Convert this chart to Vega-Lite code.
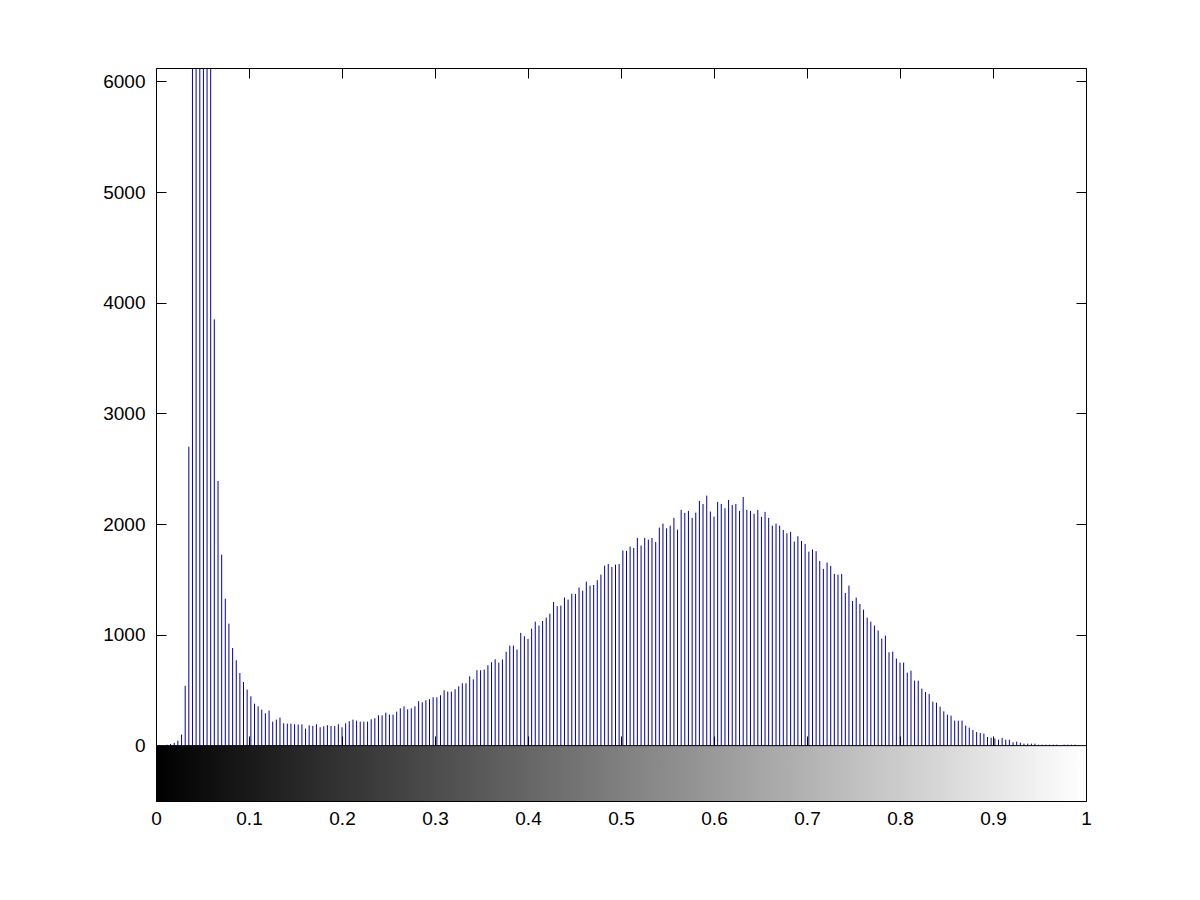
{
  "$schema": "https://vega.github.io/schema/vega-lite/v6.json",
  "width": 930,
  "height": 733,
  "autosize": {"type": "none"},
  "padding": {"left": 156, "top": 68, "right": 114, "bottom": 99},
  "background": "white",
  "config": {
    "view": {"stroke": "black", "strokeWidth": 1},
    "axis": {"labelFont": "Liberation Sans", "labelFontSize": 19, "labelColor": "black", "tickColor": "black", "tickWidth": 1, "grid": false, "domain": false, "title": null, "labelOverlap": false, "labelFlush": false}
  },
  "resolve": {"axis": {"x": "independent", "y": "independent"}},
  "layer": [
    {
      "data": {"values": [{}]},
      "mark": {"type": "rect", "fill": {"gradient": "linear", "x1": 0, "x2": 1, "y1": 0, "y2": 0, "stops": [{"offset": 0, "color": "#000000"}, {"offset": 1, "color": "#ffffff"}]}},
      "encoding": {
        "x": {"datum": 0, "type": "quantitative", "scale": {"domain": [0, 1], "nice": false, "zero": false},
              "axis": {"orient": "bottom", "values": [0, 0.1, 0.2, 0.3, 0.4, 0.5, 0.6, 0.7, 0.8, 0.9, 1], "format": "~g", "offset": -10, "tickSize": 10, "labelPadding": 8, "title": null}},
        "x2": {"datum": 1},
        "y": {"datum": -500, "type": "quantitative", "scale": {"domain": [-500, 6120], "nice": false, "zero": false},
              "axis": {"orient": "left", "values": [0, 1000, 2000, 3000, 4000, 5000, 6000], "format": "d", "offset": -10, "tickSize": 10, "labelPadding": 11, "title": null}},
        "y2": {"datum": 0}
      }
    },
    {
      "data": {"values": [
        {"x":0,"count":0},{"x":0.0039,"count":0},{"x":0.0078,"count":3},{"x":0.0118,"count":8},{"x":0.0157,"count":15},{"x":0.0196,"count":25},{"x":0.0235,"count":45},{"x":0.0275,"count":100},{"x":0.0314,"count":540},{"x":0.0353,"count":2700},
        {"x":0.0392,"count":7800},{"x":0.0431,"count":11500},{"x":0.0471,"count":13000},{"x":0.0510,"count":12000},{"x":0.0549,"count":9800},{"x":0.0588,"count":7000},{"x":0.0627,"count":3850},{"x":0.0667,"count":2390},{"x":0.0706,"count":1725},{"x":0.0745,"count":1328},
        {"x":0.0784,"count":1102},{"x":0.0824,"count":882},{"x":0.0863,"count":771},{"x":0.0902,"count":656},{"x":0.0941,"count":575},{"x":0.0980,"count":506},{"x":0.1020,"count":446},{"x":0.1059,"count":379},{"x":0.1098,"count":355},{"x":0.1137,"count":325},
        {"x":0.1176,"count":292},{"x":0.1216,"count":316},{"x":0.1255,"count":217},{"x":0.1294,"count":235},{"x":0.1333,"count":253},{"x":0.1373,"count":202},{"x":0.1412,"count":199},{"x":0.1451,"count":199},{"x":0.1490,"count":193},{"x":0.1529,"count":190},
        {"x":0.1569,"count":193},{"x":0.1608,"count":154},{"x":0.1647,"count":184},{"x":0.1686,"count":178},{"x":0.1725,"count":193},{"x":0.1765,"count":166},{"x":0.1804,"count":175},{"x":0.1843,"count":184},{"x":0.1882,"count":177},{"x":0.1922,"count":177},
        {"x":0.1961,"count":193},{"x":0.2000,"count":166},{"x":0.2039,"count":202},{"x":0.2078,"count":220},{"x":0.2118,"count":235},{"x":0.2157,"count":226},{"x":0.2196,"count":217},{"x":0.2235,"count":217},{"x":0.2275,"count":217},{"x":0.2314,"count":238},
        {"x":0.2353,"count":247},{"x":0.2392,"count":274},{"x":0.2431,"count":274},{"x":0.2471,"count":298},{"x":0.2510,"count":280},{"x":0.2549,"count":280},{"x":0.2588,"count":307},{"x":0.2627,"count":337},{"x":0.2667,"count":355},{"x":0.2706,"count":328},
        {"x":0.2745,"count":337},{"x":0.2784,"count":355},{"x":0.2824,"count":401},{"x":0.2863,"count":392},{"x":0.2902,"count":410},{"x":0.2941,"count":419},{"x":0.2980,"count":437},{"x":0.3020,"count":437},{"x":0.3059,"count":455},{"x":0.3098,"count":500},
        {"x":0.3137,"count":488},{"x":0.3176,"count":488},{"x":0.3216,"count":509},{"x":0.3255,"count":536},{"x":0.3294,"count":563},{"x":0.3333,"count":563},{"x":0.3373,"count":626},{"x":0.3412,"count":599},{"x":0.3451,"count":681},{"x":0.3490,"count":681},
        {"x":0.3529,"count":687},{"x":0.3569,"count":726},{"x":0.3608,"count":753},{"x":0.3647,"count":780},{"x":0.3686,"count":750},{"x":0.3725,"count":778},{"x":0.3765,"count":848},{"x":0.3804,"count":903},{"x":0.3843,"count":903},{"x":0.3882,"count":867},
        {"x":0.3922,"count":1018},{"x":0.3961,"count":988},{"x":0.4000,"count":964},{"x":0.4039,"count":1057},{"x":0.4078,"count":1120},{"x":0.4118,"count":1084},{"x":0.4157,"count":1126},{"x":0.4196,"count":1156},{"x":0.4235,"count":1192},{"x":0.4275,"count":1298},
        {"x":0.4314,"count":1259},{"x":0.4353,"count":1265},{"x":0.4392,"count":1337},{"x":0.4431,"count":1319},{"x":0.4471,"count":1373},{"x":0.4510,"count":1370},{"x":0.4549,"count":1427},{"x":0.4588,"count":1400},{"x":0.4627,"count":1481},{"x":0.4667,"count":1445},
        {"x":0.4706,"count":1451},{"x":0.4745,"count":1494},{"x":0.4784,"count":1545},{"x":0.4824,"count":1626},{"x":0.4863,"count":1641},{"x":0.4902,"count":1614},{"x":0.4941,"count":1635},{"x":0.4980,"count":1641},{"x":0.5020,"count":1762},{"x":0.5059,"count":1759},
        {"x":0.5098,"count":1798},{"x":0.5137,"count":1786},{"x":0.5176,"count":1876},{"x":0.5216,"count":1807},{"x":0.5255,"count":1876},{"x":0.5294,"count":1861},{"x":0.5333,"count":1876},{"x":0.5373,"count":1840},{"x":0.5412,"count":1969},{"x":0.5451,"count":2005},
        {"x":0.5490,"count":1963},{"x":0.5529,"count":1987},{"x":0.5569,"count":2057},{"x":0.5608,"count":1951},{"x":0.5647,"count":2129},{"x":0.5686,"count":2102},{"x":0.5725,"count":2120},{"x":0.5765,"count":2057},{"x":0.5804,"count":2105},{"x":0.5843,"count":2210},
        {"x":0.5882,"count":2183},{"x":0.5922,"count":2258},{"x":0.5961,"count":2114},{"x":0.6000,"count":2069},{"x":0.6039,"count":2201},{"x":0.6078,"count":2183},{"x":0.6118,"count":2144},{"x":0.6157,"count":2219},{"x":0.6196,"count":2174},{"x":0.6235,"count":2183},
        {"x":0.6275,"count":2120},{"x":0.6314,"count":2246},{"x":0.6353,"count":2129},{"x":0.6392,"count":2120},{"x":0.6431,"count":2093},{"x":0.6471,"count":2129},{"x":0.6510,"count":2066},{"x":0.6549,"count":2111},{"x":0.6588,"count":2057},{"x":0.6627,"count":1987},
        {"x":0.6667,"count":2005},{"x":0.6706,"count":1987},{"x":0.6745,"count":1948},{"x":0.6784,"count":1918},{"x":0.6824,"count":1930},{"x":0.6863,"count":1843},{"x":0.6902,"count":1891},{"x":0.6941,"count":1849},{"x":0.6980,"count":1822},{"x":0.7020,"count":1752},
        {"x":0.7059,"count":1771},{"x":0.7098,"count":1756},{"x":0.7137,"count":1668},{"x":0.7176,"count":1596},{"x":0.7216,"count":1653},{"x":0.7255,"count":1623},{"x":0.7294,"count":1551},{"x":0.7333,"count":1545},{"x":0.7373,"count":1551},{"x":0.7412,"count":1379},
        {"x":0.7451,"count":1445},{"x":0.7490,"count":1307},{"x":0.7529,"count":1337},{"x":0.7569,"count":1280},{"x":0.7608,"count":1228},{"x":0.7647,"count":1156},{"x":0.7686,"count":1120},{"x":0.7725,"count":1085},{"x":0.7765,"count":1040},{"x":0.7804,"count":967},
        {"x":0.7843,"count":994},{"x":0.7882,"count":843},{"x":0.7922,"count":849},{"x":0.7961,"count":786},{"x":0.8000,"count":750},{"x":0.8039,"count":750},{"x":0.8078,"count":659},{"x":0.8118,"count":677},{"x":0.8157,"count":587},{"x":0.8196,"count":587},
        {"x":0.8235,"count":515},{"x":0.8275,"count":485},{"x":0.8314,"count":467},{"x":0.8353,"count":397},{"x":0.8392,"count":388},{"x":0.8431,"count":352},{"x":0.8471,"count":310},{"x":0.8510,"count":280},{"x":0.8549,"count":271},{"x":0.8588,"count":226},
        {"x":0.8627,"count":226},{"x":0.8667,"count":226},{"x":0.8706,"count":181},{"x":0.8745,"count":163},{"x":0.8784,"count":142},{"x":0.8824,"count":123},{"x":0.8863,"count":114},{"x":0.8902,"count":108},{"x":0.8941,"count":78},{"x":0.8980,"count":72},
        {"x":0.9020,"count":65},{"x":0.9059,"count":54},{"x":0.9098,"count":69},{"x":0.9137,"count":54},{"x":0.9176,"count":54},{"x":0.9216,"count":30},{"x":0.9255,"count":36},{"x":0.9294,"count":27},{"x":0.9333,"count":18},{"x":0.9373,"count":18},
        {"x":0.9412,"count":18},{"x":0.9451,"count":18},{"x":0.9490,"count":9},{"x":0.9529,"count":9},{"x":0.9569,"count":9},{"x":0.9608,"count":9},{"x":0.9647,"count":9},{"x":0.9686,"count":9},{"x":0.9725,"count":4},{"x":0.9765,"count":9},
        {"x":0.9804,"count":9},{"x":0.9843,"count":9},{"x":0.9882,"count":9},{"x":0.9922,"count":5},{"x":0.9961,"count":4},{"x":1.0,"count":3}
      ]},
      "mark": {"type": "rule", "color": "#00009c", "strokeWidth": 1, "clip": true},
      "encoding": {
        "x": {"field": "x", "type": "quantitative", "scale": {"domain": [0, 1], "nice": false, "zero": false},
              "axis": {"orient": "top", "values": [0, 0.1, 0.2, 0.3, 0.4, 0.5, 0.6, 0.7, 0.8, 0.9, 1], "offset": -10, "tickSize": 10, "labels": false, "title": null}},
        "y": {"field": "count", "type": "quantitative", "scale": {"domain": [-500, 6120], "nice": false, "zero": false},
              "axis": {"orient": "right", "values": [-250, 0, 1000, 2000, 3000, 4000, 5000, 6000], "offset": -10, "tickSize": 10, "labels": false, "title": null}},
        "y2": {"datum": 0}
      }
    },
    {
      "data": {"values": [{}]},
      "mark": {"type": "rule", "color": "black", "strokeWidth": 1},
      "encoding": {
        "x": {"datum": 0, "type": "quantitative", "scale": {"domain": [0, 1], "nice": false, "zero": false},
              "axis": {"orient": "bottom", "values": [0.1, 0.2, 0.3, 0.4, 0.5, 0.6, 0.7, 0.8, 0.9], "offset": -65, "tickSize": 20, "labels": false, "title": null}},
        "x2": {"datum": 1},
        "y": {"datum": 0, "type": "quantitative", "axis": null}
      }
    }
  ]
}
